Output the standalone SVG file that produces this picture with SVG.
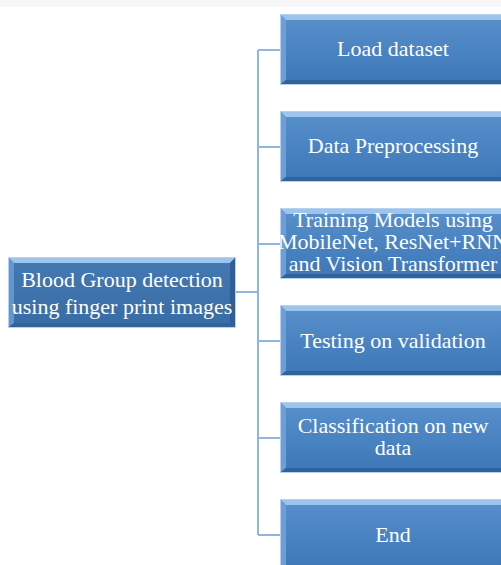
<svg xmlns="http://www.w3.org/2000/svg" width="501" height="565" viewBox="0 0 501 565">
<defs>
<linearGradient id="gBox" x1="0" y1="0" x2="0" y2="1">
<stop offset="0" stop-color="#5890cc"/>
<stop offset="1" stop-color="#3d77b7"/>
</linearGradient>
<linearGradient id="gRoot" x1="0" y1="0" x2="0" y2="1">
<stop offset="0" stop-color="#4579b3"/>
<stop offset="1" stop-color="#386ca4"/>
</linearGradient>
</defs>
<style>
.conn{fill:none;stroke:#8fb5e0;stroke-width:2}
.txt{font-family:"Liberation Serif","Times New Roman",serif;font-size:22px;fill:#ffffff;text-anchor:middle}
.bt{fill:#9cc4ec}
.bl{fill:#6d9fd6}
.br{fill:#2f5f96}
.bb{fill:#30629b}
.edge{fill:none;stroke:#b7d2ee;stroke-width:1}
</style>
<rect x="0" y="0" width="501" height="7" fill="#f6f6f6"/>
<g id="connectors">
<path class="conn" d="M235,292 H258 M258,50 V535 M258,50 H281 M258,147 H281 M258,244 H281 M258,341 H281 M258,438 H281 M258,535 H281"/>
</g>
<g id="root">
<rect x="9" y="258" width="226" height="69" fill="url(#gRoot)"/>
<polygon class="bt" points="9,258 235,258 230,263 14,263"/>
<polygon class="bl" points="9,258 14,263 14,323 9,327" opacity="0.8"/>
<polygon class="br" points="235,258 235,327 230,323 230,263"/>
<polygon class="bb" points="9,327 235,327 230,323 14,323"/>
<rect class="edge" x="8.5" y="257.5" width="227" height="70"/>
<text class="txt" x="122" y="287">Blood Group detection</text>
<text class="txt" x="122" y="314">using finger print images</text>
</g>
<g id="n1">
<rect x="281" y="15" width="226" height="69" fill="url(#gBox)"/>
<polygon class="bt" points="281,15 507,15 502,20 286,20"/>
<polygon class="bl" points="281,15 286,20 286,80 281,84"/>
<polygon class="bb" points="281,84 507,84 502,80 286,80"/>
<rect class="edge" x="280.5" y="14.5" width="227" height="70"/>
<text class="txt" x="393" y="56">Load dataset</text>
</g>
<g id="n2">
<rect x="281" y="112" width="226" height="69" fill="url(#gBox)"/>
<polygon class="bt" points="281,112 507,112 502,117 286,117"/>
<polygon class="bl" points="281,112 286,117 286,177 281,181"/>
<polygon class="bb" points="281,181 507,181 502,177 286,177"/>
<rect class="edge" x="280.5" y="111.5" width="227" height="70"/>
<text class="txt" x="393" y="153">Data Preprocessing</text>
</g>
<g id="n3">
<rect x="281" y="209" width="226" height="69" fill="url(#gBox)"/>
<polygon class="bt" points="281,209 507,209 502,214 286,214"/>
<polygon class="bl" points="281,209 286,214 286,274 281,278"/>
<polygon class="bb" points="281,278 507,278 502,274 286,274"/>
<rect class="edge" x="280.5" y="208.5" width="227" height="70"/>
<text class="txt" x="393" y="227">Training Models using</text>
<text class="txt" x="393" y="249">MobileNet, ResNet+RNN</text>
<text class="txt" x="393" y="271">and Vision Transformer</text>
</g>
<g id="n4">
<rect x="281" y="306" width="226" height="69" fill="url(#gBox)"/>
<polygon class="bt" points="281,306 507,306 502,311 286,311"/>
<polygon class="bl" points="281,306 286,311 286,371 281,375"/>
<polygon class="bb" points="281,375 507,375 502,371 286,371"/>
<rect class="edge" x="280.5" y="305.5" width="227" height="70"/>
<text class="txt" x="393" y="348">Testing on validation</text>
</g>
<g id="n5">
<rect x="281" y="403" width="226" height="69" fill="url(#gBox)"/>
<polygon class="bt" points="281,403 507,403 502,408 286,408"/>
<polygon class="bl" points="281,403 286,408 286,468 281,472"/>
<polygon class="bb" points="281,472 507,472 502,468 286,468"/>
<rect class="edge" x="280.5" y="402.5" width="227" height="70"/>
<text class="txt" x="393" y="433">Classification on new</text>
<text class="txt" x="393" y="455">data</text>
</g>
<g id="n6">
<rect x="281" y="500" width="226" height="69" fill="url(#gBox)"/>
<polygon class="bt" points="281,500 507,500 502,505 286,505"/>
<polygon class="bl" points="281,500 286,505 286,565 281,569"/>
<rect class="edge" x="280.5" y="499.5" width="227" height="70"/>
<text class="txt" x="393" y="542">End</text>
</g>
</svg>
